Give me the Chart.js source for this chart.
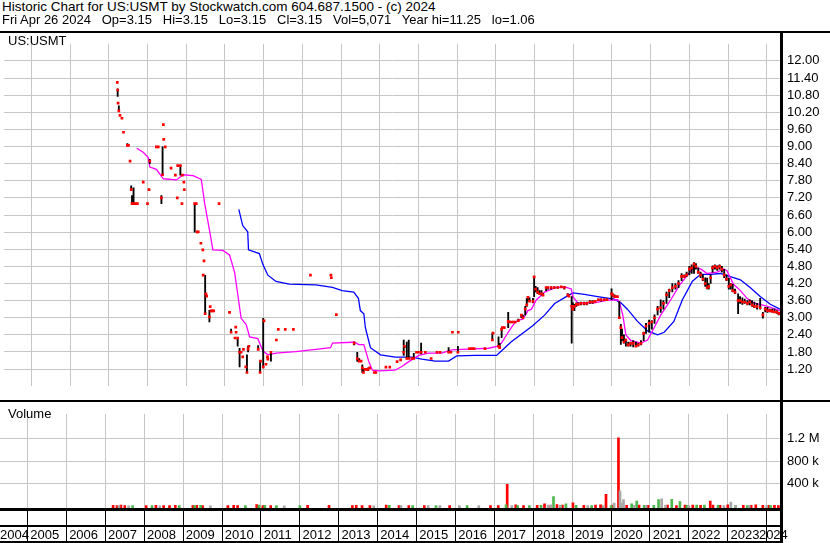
<!DOCTYPE html>
<html><head><meta charset="utf-8">
<script src="https://cdn.jsdelivr.net/npm/chart.js@4.4.1/dist/chart.umd.min.js"></script>
<style>
html,body{margin:0;padding:0;background:#fff;}
body{width:830px;height:543px;position:relative;overflow:hidden;font-family:"Liberation Sans",Arial,sans-serif;}
.t{position:absolute;left:2px;font-size:13px;line-height:13px;white-space:pre;color:#000;}
.ln{position:absolute;background:#000;}
canvas{position:absolute;left:0;}
</style></head><body>
<canvas id="pc" width="830" height="370" style="top:30px"></canvas>
<canvas id="vc" width="830" height="143" style="top:400px"></canvas>
<div class="t" style="top:0px;font-size:13.5px">Historic Chart for US:USMT by Stockwatch.com 604.687.1500 - (c) 2024</div>
<div class="t" style="top:12.5px">Fri Apr 26 2024   Op=3.15   Hi=3.15   Lo=3.15   Cl=3.15   Vol=5,071   Year hi=11.25   lo=1.06</div>
<div class="t" style="top:34px;left:8px">US:USMT</div>
<div class="t" style="top:407px;left:8px">Volume</div>
<div class="ln" style="left:0;top:31px;width:830px;height:2px"></div>
<div class="ln" style="left:0;top:400px;width:830px;height:2px"></div>
<div class="ln" style="left:0;top:508px;width:783px;height:3px"></div>
<div class="ln" style="left:0;top:525px;width:783px;height:2px"></div>
<div class="ln" style="left:0;top:541px;width:783px;height:2px"></div>
<div class="ln" style="left:780px;top:31px;width:3px;height:512px"></div>
<script>
// ---------- DATA ----------
const xMin = 2004.293, xMax = 2024.368;
const yearStarts = [2004,2005,2006,2007,2008,2009,2010,2011,2012,2013,2014,2015,2016,2017,2018,2019,2020,2021,2022,2023,2024];
const yearLabels = ['2004','2005','2006','2007','2008','2009','2010','2011','2012','2013','2014','2015','2016','2017','2018','2019','2020','2021','2022','2023','2024'];
const priceTicks = [1.2,1.8,2.4,3.0,3.6,4.2,4.8,5.4,6.0,6.6,7.2,7.8,8.4,9.0,9.6,10.2,10.8,11.4,12.0];
const volTicks = [400000,800000,1200000];
const volTickLabels = ['400 k','800 k','1.2 M'];

const priceDates = [
2007.22,2007.23,2007.24,2007.26,2007.29,2007.34,2007.38,2007.48,2007.51,2007.55,2007.58,2007.60,2007.64,2007.68,2007.74,2007.89,
2008.00,2008.04,2008.06,2008.23,2008.28,2008.36,2008.39,2008.41,2008.42,2008.46,2008.61,2008.72,2008.77,2008.78,2008.85,2008.89,2008.90,2008.94,2008.95,
2009.22,2009.26,2009.28,2009.31,2009.38,2009.43,2009.44,2009.46,2009.49,2009.51,2009.53,2009.60,2009.62,2009.64,2009.67,2009.71,2009.85,
2010.12,2010.16,2010.26,2010.28,2010.29,2010.33,2010.38,2010.42,2010.46,2010.48,2010.54,2010.57,2010.60,2010.62,2010.86,2010.91,2010.92,2010.99,
2011.01,2011.06,2011.10,2011.11,2011.19,2011.33,2011.38,2011.56,2011.77,2012.21,2012.74,2012.75,2012.88,
2013.34,2013.42,2013.47,2013.52,2013.55,2013.58,2013.62,2013.66,2013.70,2013.74,2013.86,2013.90,
2014.16,2014.26,2014.45,2014.54,2014.62,2014.64,2014.70,2014.75,2014.83,2014.88,2014.95,
2015.00,2015.07,2015.18,2015.33,2015.48,2015.56,2015.78,2015.84,2015.88,
2016.02,2016.03,2016.32,2016.38,2016.44,2016.72,2016.91,2016.93,
2017.07,2017.10,2017.15,2017.17,2017.22,2017.32,2017.35,2017.40,2017.45,2017.50,2017.58,2017.66,2017.70,2017.76,2017.80,2017.83,2017.87,2017.96,2017.99,
2018.03,2018.08,2018.13,2018.18,2018.22,2018.30,2018.35,2018.43,2018.51,2018.60,2018.69,2018.77,2018.86,2018.89,2018.96,2018.99,
2019.03,2019.08,2019.13,2019.20,2019.28,2019.35,2019.43,2019.50,2019.57,2019.65,2019.72,2019.80,2019.87,2019.99,
2020.02,2020.07,2020.14,2020.19,2020.23,2020.26,2020.31,2020.36,2020.42,2020.48,2020.55,2020.62,2020.68,2020.75,2020.82,2020.88,2020.96,
2021.03,2021.10,2021.18,2021.26,2021.33,2021.41,2021.48,2021.56,2021.64,2021.72,2021.80,2021.87,2021.93,
2022.00,2022.06,2022.12,2022.17,2022.23,2022.29,2022.35,2022.41,2022.46,2022.50,2022.55,2022.60,2022.66,2022.72,2022.78,2022.84,2022.90,2022.96,
2023.02,2023.07,2023.12,2023.18,2023.26,2023.31,2023.37,2023.43,2023.50,2023.56,2023.62,2023.68,2023.75,2023.83,2023.90,2023.96,
2024.02,2024.08,2024.14,2024.20,2024.26,2024.31,2024.33];
const priceLow = [
11.25,10.76,10.52,10.24,10.09,9.99,9.50,9.04,9.04,8.49,7.49,7.00,7.00,7.00,7.00,7.75,
7.00,7.49,8.40,8.99,8.99,7.00,8.01,9.77,9.25,8.99,8.24,8.00,7.20,8.33,8.00,7.00,8.00,7.75,7.49,
6.00,7.00,6.01,6.01,5.61,5.38,4.49,4.99,3.14,3.84,3.76,2.85,3.39,3.24,3.24,3.24,7.00,
3.19,2.49,2.29,2.67,2.49,2.00,1.28,1.79,1.63,1.89,1.28,1.08,1.80,2.00,1.89,1.08,1.48,1.24,
2.89,1.37,1.63,1.55,1.48,2.22,2.59,2.59,2.59,4.49,4.49,4.40,3.11,
2.05,1.47,1.47,1.48,1.08,1.08,1.19,1.19,1.14,1.24,1.08,1.08,
1.27,1.27,1.46,1.52,1.68,1.95,1.57,1.57,1.57,1.57,1.79,
1.79,1.73,1.79,1.57,1.79,1.79,1.79,1.79,2.49,
1.79,2.49,1.92,1.92,1.92,1.92,2.22,2.46,
2.00,1.95,2.30,2.65,2.65,2.65,2.85,2.85,2.85,2.85,2.87,3.00,3.00,3.10,3.40,3.58,3.60,3.52,3.74,
3.90,3.84,3.84,3.79,3.79,3.95,4.00,4.00,4.02,4.03,4.05,4.00,3.79,3.76,2.11,3.30,
3.25,3.40,3.45,3.45,3.45,3.45,3.50,3.50,3.55,3.60,3.58,3.60,3.60,3.63,
3.75,3.70,3.70,2.98,2.06,2.20,2.11,2.00,2.00,2.00,1.98,2.00,2.00,2.05,2.20,2.45,2.49,
2.60,2.80,3.10,3.19,3.30,3.50,3.70,3.90,4.00,4.05,4.30,4.40,4.45,
4.50,4.55,4.55,4.70,4.55,4.40,4.30,4.10,4.01,4.00,4.20,4.60,4.70,4.66,4.70,4.60,4.40,4.30,
4.00,4.00,3.90,3.84,3.14,3.50,3.47,3.50,3.45,3.45,3.40,3.35,3.30,3.30,2.98,3.20,
3.19,3.20,3.20,3.19,3.15,3.10,3.15];
const priceHigh = [
11.25,11.02,10.52,10.43,10.09,9.99,9.50,9.10,9.04,8.49,7.62,7.28,7.55,7.00,7.00,7.75,
7.00,7.49,8.55,8.99,8.99,7.28,8.99,9.77,9.25,8.99,8.24,8.00,7.20,8.33,8.33,7.00,8.00,7.75,7.49,
7.00,7.00,6.01,6.01,5.61,5.38,4.49,4.99,4.49,3.84,3.76,3.26,3.39,3.24,3.24,3.24,7.00,
3.22,2.60,2.29,2.67,2.49,2.29,1.93,1.79,1.63,1.89,1.28,1.70,2.00,2.00,2.02,1.48,1.48,2.98,
2.89,1.37,1.63,1.55,1.79,2.22,2.59,2.59,2.59,4.49,4.49,4.40,3.11,
2.15,1.79,1.57,1.48,1.35,1.19,1.19,1.19,1.24,1.24,1.08,1.08,
1.27,1.27,1.46,1.52,2.22,2.00,2.15,2.22,1.57,1.75,1.79,
1.79,2.11,1.79,1.57,1.79,1.79,1.95,1.79,2.49,
2.00,2.49,1.92,1.92,1.92,1.92,2.46,2.46,
2.33,2.10,2.65,2.65,2.65,3.19,2.87,2.85,2.85,2.85,2.95,3.09,3.09,3.40,3.68,3.71,3.71,3.68,4.44,
4.10,4.06,3.95,3.95,3.85,4.06,4.08,4.08,4.08,4.08,4.10,4.10,3.85,3.80,3.74,3.52,
3.47,3.52,3.52,3.55,3.55,3.55,3.60,3.60,3.60,3.65,3.66,3.66,3.66,4.01,
3.85,3.80,3.76,3.57,2.77,2.60,2.40,2.25,2.15,2.15,2.20,2.15,2.10,2.20,2.50,2.80,2.92,
2.90,3.10,3.40,3.63,3.60,3.90,4.00,4.20,4.20,4.30,4.55,4.50,4.60,
4.80,4.85,4.93,4.90,4.75,4.60,4.50,4.40,4.39,4.20,4.50,4.82,4.85,4.82,4.85,4.80,4.70,4.50,
4.39,4.20,4.17,4.00,3.84,3.74,3.70,3.65,3.60,3.63,3.60,3.55,3.50,3.68,3.19,3.36,
3.36,3.30,3.30,3.30,3.25,3.20,3.15];
const priceClose = [
11.25,10.98,10.52,10.25,10.09,9.99,9.50,9.04,9.04,8.49,7.49,7.00,7.00,7.00,7.00,7.75,
7.00,7.49,8.49,8.99,8.99,7.20,8.01,9.77,9.25,8.99,8.24,8.00,7.20,8.33,8.33,7.00,8.00,7.75,7.49,
7.00,7.00,6.01,6.01,5.61,5.38,4.49,4.99,3.14,3.84,3.76,3.03,3.39,3.24,3.24,3.24,7.00,
3.19,2.49,2.29,2.67,2.49,2.29,1.79,1.79,1.63,1.89,1.28,1.08,1.90,2.00,1.89,1.08,1.48,1.28,
2.89,1.37,1.63,1.55,1.79,2.22,2.59,2.59,2.59,4.49,4.49,4.40,3.11,
2.11,1.57,1.48,1.48,1.24,1.08,1.19,1.19,1.19,1.24,1.08,1.08,
1.27,1.27,1.46,1.52,1.79,2.00,1.57,1.57,1.57,1.57,1.79,
1.79,1.79,1.79,1.57,1.79,1.79,1.79,1.79,2.49,
1.79,2.49,1.92,1.92,1.92,1.92,2.22,2.46,
2.00,1.95,2.59,2.65,2.65,2.87,2.85,2.85,2.85,2.85,2.90,3.09,3.00,3.30,3.45,3.71,3.58,3.57,4.43,
4.00,3.90,3.84,3.84,3.79,4.06,4.06,4.06,4.06,4.06,4.08,4.06,3.79,3.76,3.40,3.30,
3.40,3.47,3.47,3.50,3.50,3.50,3.55,3.55,3.57,3.63,3.63,3.63,3.63,3.84,
3.79,3.74,3.74,3.00,2.65,2.30,2.15,2.22,2.05,2.10,2.10,2.00,2.05,2.10,2.45,2.70,2.80,
2.85,3.00,3.30,3.35,3.50,3.80,3.95,4.05,4.10,4.20,4.45,4.45,4.50,
4.70,4.75,4.88,4.80,4.60,4.50,4.35,4.20,4.05,4.10,4.40,4.75,4.80,4.75,4.80,4.70,4.50,4.35,
4.10,4.15,3.95,3.90,3.60,3.60,3.55,3.55,3.50,3.55,3.45,3.40,3.40,3.35,3.10,3.30,
3.25,3.25,3.22,3.20,3.20,3.15,3.15];

const maFastDates = [2007.72,2007.89,2008.02,2008.06,2008.23,2008.41,2008.75,2008.92,2009.18,2009.39,2009.48,2009.61,2009.69,2009.95,2010.12,2010.25,2010.33,2010.42,2010.55,2010.64,2010.85,2010.98,2011.11,2011.32,2011.83,2012.35,2012.73,2012.78,2013.29,2013.33,2013.46,2013.59,2013.72,2013.81,2013.98,2014.40,2014.58,2014.75,2015.01,2015.26,2015.60,2015.86,2016.12,2016.81,2017.06,2017.15,2017.32,2017.40,2017.49,2017.58,2017.70,2017.83,2017.92,2018.05,2018.18,2018.26,2018.35,2018.56,2018.82,2018.95,2018.99,2019.12,2019.55,2019.89,2020.15,2020.19,2020.28,2020.36,2020.49,2020.75,2020.92,2021.09,2021.26,2021.52,2021.73,2021.95,2022.12,2022.29,2022.46,2022.72,2022.89,2022.97,2023.14,2023.32,2023.49,2023.66,2024.00,2024.34];
const maFast = [8.94,8.80,8.61,8.28,8.20,7.87,7.83,8.01,7.98,7.85,6.99,6.01,5.38,5.36,5.20,4.60,3.84,2.98,2.76,2.33,2.27,1.84,1.70,1.76,1.81,1.89,1.95,2.11,2.14,2.16,2.06,2.06,1.46,1.16,1.14,1.16,1.30,1.46,1.68,1.76,1.76,1.87,1.89,1.93,2.00,2.12,2.49,2.65,2.82,2.92,2.95,3.25,3.30,3.63,3.79,3.90,3.95,4.06,4.06,4.01,3.74,3.52,3.52,3.62,3.63,3.57,3.10,2.40,2.20,2.11,2.22,2.65,3.09,3.63,4.11,4.49,4.76,4.71,4.55,4.60,4.71,4.65,4.17,3.95,3.68,3.52,3.41,3.25];
const maSlowDates = [2010.36,2010.46,2010.59,2010.61,2010.89,2010.98,2011.11,2011.32,2011.66,2012.35,2012.78,2013.03,2013.33,2013.45,2013.50,2013.59,2013.63,2013.76,2014.02,2014.40,2014.83,2015.09,2015.43,2015.78,2015.99,2016.46,2017.02,2017.15,2017.40,2017.66,2017.96,2018.26,2018.52,2018.82,2018.99,2019.29,2019.63,2020.06,2020.23,2020.40,2020.66,2020.92,2021.18,2021.35,2021.60,2021.82,2022.08,2022.29,2022.55,2022.80,2023.06,2023.32,2023.57,2023.83,2024.09,2024.34];
const maSlow = [6.80,6.23,6.01,5.38,5.25,4.87,4.49,4.27,4.18,4.15,4.06,3.95,3.90,3.68,3.25,3.14,2.65,1.95,1.70,1.62,1.62,1.55,1.48,1.48,1.66,1.68,1.68,1.84,2.16,2.42,2.73,3.09,3.50,3.74,3.87,3.82,3.74,3.65,3.52,3.30,2.87,2.54,2.40,2.49,2.87,3.63,4.28,4.52,4.52,4.55,4.44,4.33,4.06,3.74,3.47,3.30];

const volDownDates = [2007.20,2007.30,2007.40,2007.50,2008.05,2008.30,2008.50,2008.65,2008.80,2009.25,2009.35,2009.50,2010.15,2010.30,2010.40,2010.89,2011.05,2011.25,2012.20,2012.75,2013.35,2013.45,2013.60,2013.80,2014.22,2014.55,2014.80,2015.20,2015.85,2016.90,2017.10,2017.33,2017.55,2017.75,2018.10,2018.29,2018.45,2018.61,2018.75,2019.02,2019.30,2019.60,2019.73,2019.87,2020.05,2020.19,2020.40,2020.72,2020.95,2021.45,2021.68,2021.90,2022.10,2022.30,2022.55,2022.62,2022.80,2023.00,2023.40,2023.60,2023.72,2023.90,2024.05,2024.20,2024.30];
const volDown = [15000,12000,18000,10000,12000,15000,10000,12000,14000,12000,15000,10000,12000,15000,10000,30000,10000,12000,15000,15000,12000,15000,10000,12000,20000,12000,10000,10000,12000,12000,10000,390000,25000,12000,15000,40000,15000,28000,20000,60000,15000,20000,25000,212000,20000,1216000,15000,20000,15000,20000,12000,20000,20000,15000,91000,20000,15000,25000,15000,15000,25000,15000,15000,15000,12000];
const volUpDates = [2007.70,2008.20,2008.90,2009.30,2009.45,2010.60,2010.95,2011.10,2011.40,2012.00,2014.30,2014.90,2015.50,2016.30,2017.30,2017.60,2017.90,2018.20,2018.52,2018.70,2018.84,2019.10,2019.50,2020.00,2020.53,2020.66,2020.85,2021.10,2021.22,2021.56,2021.77,2021.95,2022.20,2022.40,2022.75,2023.20,2023.50,2024.10];
const volUp = [10000,12000,10000,10000,15000,10000,18000,15000,10000,10000,15000,10000,12000,12000,22000,10000,12000,15000,170000,15000,40000,15000,12000,10000,40000,91000,15000,15000,118000,122000,80000,15000,18000,20000,15000,12000,12000,12000];
const volFlatDates = [2007.35,2007.60,2008.40,2009.70,2011.60,2013.90,2014.60,2015.30,2015.60,2016.10,2016.60,2017.45,2018.38,2018.46,2018.70,2019.40,2019.80,2020.08,2020.23,2020.26,2020.32,2020.60,2020.90,2021.30,2021.40,2022.00,2022.90,2023.08,2023.20,2023.55,2024.00];
const volFlat = [10000,8000,8000,8000,8000,8000,10000,10000,10000,10000,10000,12000,20000,25000,12000,10000,12000,55000,275000,55000,118000,15000,15000,133000,15000,12000,12000,75000,15000,12000,10000];

// ---------- CHARTS ----------
Chart.defaults.font.family = '"Liberation Sans", Arial, sans-serif';
Chart.defaults.font.size = 13;
Chart.defaults.color = '#000';
const GRID = '#c6c6c6';

const pts = (xs, ys) => xs.map((x, i) => ({x: x, y: ys[i]}));
const ranges = priceDates.map((x, i) => ({x: x, y: [priceLow[i], priceHigh[i]]})).filter(p => p.y[1] > p.y[0]);
const closes = pts(priceDates, priceClose);

const baseOpts = {
  responsive: false, animation: false, devicePixelRatio: 1, events: [],
  plugins: {legend: {display: false}, tooltip: {enabled: false}}
};

new Chart(document.getElementById('pc'), {
  type: 'bar',
  data: {datasets: [
    {type: 'scatter', data: closes, pointStyle: 'rect', pointRadius: 1.9, pointBackgroundColor: '#ff0000', pointBorderWidth: 0, order: 0},
    {type: 'bar', data: ranges, backgroundColor: '#000', barThickness: 1.2, grouped: false, order: 1},
    {type: 'line', data: pts(maFastDates, maFast), borderColor: '#ff00ff', borderWidth: 1.3, pointRadius: 0, tension: 0, order: 2},
    {type: 'line', data: pts(maSlowDates, maSlow), borderColor: '#0000ff', borderWidth: 1.3, pointRadius: 0, tension: 0, order: 3}
  ]},
  options: Object.assign({}, baseOpts, {
    layout: {padding: 0},
    scales: {
      x: {type: 'linear', min: xMin, max: xMax, offset: false,
          grid: {color: GRID, drawTicks: false, offset: false}, border: {display: false},
          ticks: {display: false},
          afterBuildTicks: s => { s.ticks = yearStarts.filter(v => v > xMin).map(v => ({value: v})); },
          afterFit: s => { s.height = 0; }},
      y: {type: 'linear', position: 'right', min: 0.6, max: 12.6, beginAtZero: false,
          grid: {color: GRID, drawTicks: false}, border: {display: false},
          ticks: {padding: 6, callback: v => Number(v).toFixed(2)},
          afterBuildTicks: s => { s.ticks = priceTicks.map(v => ({value: v})); },
          afterFit: s => { s.width = 49; }}
    }
  })
});

const volBar = (xs, ys, color) => ({type: 'bar', data: pts(xs, ys), backgroundColor: color, barThickness: 2, grouped: false, base: -50000});
new Chart(document.getElementById('vc'), {
  type: 'bar',
  data: {datasets: [
    volBar(volFlatDates, volFlat, '#a8a8a8'),
    volBar(volUpDates, volUp, '#4cb84c'),
    volBar(volDownDates, volDown, '#ff0000')
  ]},
  options: Object.assign({}, baseOpts, {
    layout: {padding: {top: 2}},
    scales: {
      x: {type: 'linear', position: 'bottom', weight: 0, min: xMin, max: xMax, offset: false,
          grid: {color: GRID, offset: false, drawTicks: true, tickLength: 34, tickColor: '#000', tickWidth: 1},
          border: {display: false}, ticks: {display: false},
          afterBuildTicks: s => { s.ticks = yearStarts.filter(v => v > xMin).map(v => ({value: v})); },
          afterFit: s => { s.height = 0; }},
      xl: {type: 'linear', position: 'bottom', weight: 1, min: xMin, max: xMax, offset: false,
          grid: {display: false, drawTicks: false, offset: false}, border: {display: false},
          ticks: {autoSkip: false, maxRotation: 0, minRotation: 0, align: 'start', padding: 0,
                  font: {size: 13, lineHeight: 4},
                  callback: (v, i) => yearLabels[i]},
          afterBuildTicks: s => { s.ticks = yearStarts.map(v => ({value: Math.min(Math.max(v + 0.07, xMin), xMax - 0.568)})); },
          afterFit: s => { s.height = 34; }},
      y: {type: 'linear', position: 'right', min: -50000, max: 1644000, beginAtZero: false,
          grid: {color: GRID, drawTicks: false}, border: {display: false},
          ticks: {padding: 6, callback: (v, i) => volTickLabels[i]},
          afterBuildTicks: s => { s.ticks = volTicks.map(v => ({value: v})); },
          afterFit: s => { s.width = 49; }}
    }
  })
});
</script>
</body></html>
